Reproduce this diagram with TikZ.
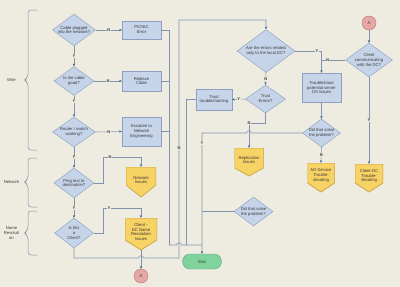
\documentclass[tikz,border=0pt]{standalone}
\usepackage{fontspec}
\setmainfont{Liberation Sans}
\usetikzlibrary{shapes.geometric,arrows.meta}
\definecolor{bgc}{HTML}{EEEBE0}
\definecolor{linec}{HTML}{8094AE}
\definecolor{arrc}{HTML}{3A5A8E}
\definecolor{diaf}{HTML}{C6D4E9}
\definecolor{diab}{HTML}{8EA2C2}
\definecolor{boxf}{HTML}{C6D5EA}
\definecolor{boxb}{HTML}{8CA1C1}
\definecolor{yelf}{HTML}{F7D264}
\definecolor{yelb}{HTML}{C9A445}
\definecolor{cirf}{HTML}{E6A8A7}
\definecolor{cirb}{HTML}{B57A7B}
\definecolor{endf}{HTML}{80D39D}
\definecolor{endb}{HTML}{5AAE78}
\definecolor{txtc}{HTML}{3A3A3A}
\begin{document}
\begin{tikzpicture}[x=1pt,y=-1pt,
  txt/.style={font=\fontsize{4.2}{4.9}\selectfont, text=txtc, align=center, inner sep=0pt},
  dia/.style={diamond, draw=diab, fill=diaf, line width=0.45pt, inner sep=0pt},
  dtext/.style={label={[txt]center:{#1}}},
  box/.style={rectangle, txt, draw=boxb, fill=boxf, line width=0.45pt},
  pent/.style={rectangle, inner sep=0pt, path picture={
     \filldraw[fill=yelf, draw=yelb, line width=0.7pt]
       (path picture bounding box.north west) -- (path picture bounding box.north east)
       -- ([yshift=#1]path picture bounding box.south east) -- (path picture bounding box.south)
       -- ([yshift=#1]path picture bounding box.south west) -- cycle;}},
  pent/.default=12pt,
  ptext/.style={label={[txt, yshift=2pt]center:{#1}}},
  circ/.style={circle, txt, draw=cirb, fill=cirf, line width=0.45pt, minimum size=14pt},
  term/.style={rectangle, rounded corners=7.5pt, txt, draw=endb, fill=endf, line width=0.45pt},
  lab/.style={font=\fontsize{4}{4}\selectfont\bfseries, text=txtc, fill=bgc, inner sep=0.5pt},
  ln/.style={draw=linec, line width=0.55pt},
  arr/.style={ln, -{Stealth[length=2.6pt,width=2.2pt,color=arrc]}},
  brc/.style={draw=linec, line width=0.5pt, rounded corners=3pt}
]
\fill[bgc] (0,0) rectangle (400,287);
\useasboundingbox (0,0) rectangle (400,287);

% braces and section labels
\draw[brc] (37,10) -- (28,10) -- (28,77) -- (24,80) -- (28,83) -- (28,150) -- (37,150);
\draw[brc] (37,158) -- (28,158) -- (28,179) -- (24,182) -- (28,185) -- (28,207) -- (37,207);
\draw[brc] (37,211) -- (28,211) -- (28,230) -- (24,233) -- (28,236) -- (28,255) -- (37,255);
\node[txt] (lwire) at (11.5,80) {Wire};
\node[txt] (lnet) at (11.5,182) {Network};
\node[txt] (lname) at (11.5,233) {Name\\Resoluti\\on};

% left column diamonds
\node[dia, minimum width=43pt, minimum height=32pt, dtext={Cable plugged\\into the network?}] (d1) at (74,30) {};
\node[dia, minimum width=40pt, minimum height=29pt, dtext={Is the cable\\good?}] (d2) at (74,81) {};
\node[dia, minimum width=43pt, minimum height=30pt, dtext={Router / switch\\working?}] (d3) at (74,132) {};
\node[dia, minimum width=40pt, minimum height=30pt, dtext={Ping test to\\destination?}] (d4) at (74,183) {};
\node[dia, minimum width=39pt, minimum height=30pt, dtext={Is this\\a\\Client?}] (d5) at (74,233) {};

% boxes
\node[box, minimum width=39pt, minimum height=18pt] (b1) at (141.5,30) {PICNIC\\Error};
\node[box, minimum width=39pt, minimum height=20pt] (b2) at (141.5,81) {Replace\\Cable};
\node[box, minimum width=39pt, minimum height=29pt] (b3) at (141.5,131.5) {Escalate to\\Network\\Engineering};
\node[box, minimum width=36pt, minimum height=21pt] (b4) at (214,99.5) {Trust\\troubleshooting};
\node[box, minimum width=39pt, minimum height=29pt] (b5) at (321.5,87.5) {Troubleshoot\\potential server\\OS Issues};

% pentagons
\node[pent, minimum width=30pt, minimum height=30pt, ptext={Network\\Issues}] (p1) at (141,182) {};
\node[pent=10pt, minimum width=32pt, minimum height=32pt, ptext={Client -\\DC Name\\Resolution\\Issues}] (p2) at (141,234) {};
\node[pent=8pt, minimum width=29pt, minimum height=28pt, ptext={Replication\\Issues}] (p3) at (249,162) {};
\node[pent=9pt, minimum width=27pt, minimum height=29pt, ptext={AD Service\\Trouble-\\shooting}] (p4) at (321,177.5) {};
\node[pent=9pt, minimum width=28pt, minimum height=28pt, ptext={Client-DC\\Trouble-\\shooting}] (p5) at (369,178) {};

% right diamonds
\node[dia, minimum width=58pt, minimum height=43pt, dtext={Are the errors related\\only to the local DC?}] (d6) at (266,51) {};
\node[dia, minimum width=40pt, minimum height=28pt, dtext={Trust\\Errors?}] (d7) at (265.5,99) {};
\node[dia, minimum width=39pt, minimum height=29pt, dtext={Did that solve\\the problem?}] (d8) at (253.5,211.5) {};
\node[dia, minimum width=47pt, minimum height=34pt, dtext={Client\\communicating\\with the DC?}] (d9) at (369,60) {};
\node[dia, minimum width=38pt, minimum height=28pt, dtext={Did that solve\\the problem?}] (d10) at (321.5,133) {};

% circles and end
\node[circ] (cA1) at (141,276) {A};
\node[circ] (cA2) at (369,23) {A};
\node[term, minimum width=39pt, minimum height=15pt] (tE) at (202,261.5) {End};

% junction coordinates
\coordinate (j1) at (169,245);
\coordinate (j2) at (202,245);
\coordinate (j3) at (186,245);

% left column connectors
\draw[arr] (d1) -- node[lab] {Y} (d2);
\draw[arr] (d2) -- node[lab, pos=0.25] {Y} (d3);
\draw[arr] (d3) -- node[lab] {Y} (d4);
\draw[arr] (d4) -- node[lab] {Y} (d5);
\draw[arr] (d1.east) -- node[lab] {N} (b1.west);
\draw[arr] (d2.east) -- node[lab] {N} (b2.west);
\draw[arr] (d3.east) -- node[lab] {N} (b3.west);
\draw[arr] (d4.east) -| (103,157) -| (p1.north);
\node[lab] (nl1) at (110,157) {N};
\draw[arr] (d5.east) -| (103,208) -| (p2.north);
\node[lab] (nl2) at (109,208) {Y};
\draw[arr] (p2.south) -- (cA1.north);

% collectors to End
\draw[ln] (b1.east) -| (j1);
\draw[ln] (b2.east) -- (b2.east -| j1);
\draw[ln] (b3.east) -- (b3.east -| j1);
\draw[ln] (j1) -- (176.5,245) .. controls (176.5,242) and (181.5,242) .. (181.5,245) -- (j2);
\draw[ln] (b4.west) -| (j3);
\draw[arr] (d10.west) -- (251.5,133) .. controls (251.5,130) and (246.5,130) .. (246.5,133) -| (tE.north);
\node[lab] (nl3) at (202,143) {Y};
\draw[ln] (d8.west) -- (d8.west -| tE.north);

% not a client -> DC errors
\draw[arr] (d5.south) |- (138.5,258) .. controls (138.5,255) and (143.5,255) .. (143.5,258) -| (179,20) -| (d6.north);
\node[lab] (nl4) at (179,148) {N};

% right part connectors
\draw[arr] (d6.south) -- node[lab] {N} (d7.north);
\draw[arr] (d7.west) -- node[lab] {Y} (b4.east);
\draw[arr] (d7.south) -- ++(0,10) -| (p3.north);
\node[lab] (nl5) at (249,123) {N};
\draw[arr] (d6.east) -| (b5.north);
\node[lab] (nl6) at (317,51) {Y};
\draw[ln] (d9.west) -- node[lab, pos=0.75] {N} (d9.west -| b5.north);
\draw[arr] (cA2.south) -- (d9.north);
\draw[arr] (d9.south) -- node[lab] {Y} (p5.north);
\draw[arr] (b5.south) -- (d10.north);
\draw[arr] (d10.south) -- node[lab] {N} (p4.north);
\end{tikzpicture}
\end{document}
